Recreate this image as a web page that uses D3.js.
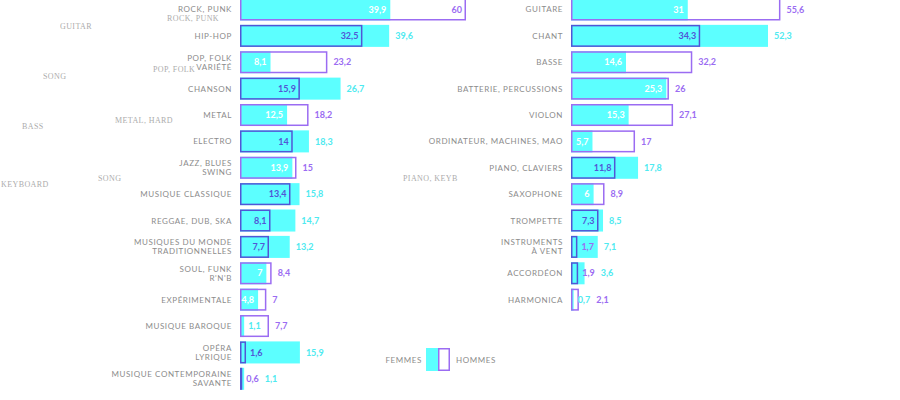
<!DOCTYPE html>
<html>
<head>
<meta charset="utf-8">
<script src="https://cdn.jsdelivr.net/npm/d3@7"></script>
<style>
  html, body { margin: 0; padding: 0; background: #fff; }
  svg { display: block; }
  .cat { font-family: Lato, "Open Sans", sans-serif; font-size: 8px; fill: #8c8c8c; letter-spacing: 0.6px; text-transform: uppercase; }
  .val { font-family: Lato, "Open Sans", sans-serif; font-size: 9px; font-weight: 700; }
  .ghost { font-family: "Liberation Serif", "DejaVu Serif", serif; font-size: 8px; fill: #666; opacity: 0.55; letter-spacing: 0.4px; }
</style>
</head>
<body>
<svg id="chart" width="900" height="400"></svg>
<script>
// ---------- DATA ----------
const leftCategories = [
  ["ROCK, PUNK"], ["HIP-HOP"], ["POP, FOLK", "VARIÉTÉ"], ["CHANSON"], ["METAL"],
  ["ELECTRO"], ["JAZZ, BLUES", "SWING"], ["MUSIQUE CLASSIQUE"], ["REGGAE, DUB, SKA"],
  ["MUSIQUES DU MONDE", "TRADITIONNELLES"], ["SOUL, FUNK", "R'N'B"], ["EXPÉRIMENTALE"],
  ["MUSIQUE BAROQUE"], ["OPÉRA", "LYRIQUE"], ["MUSIQUE CONTEMPORAINE", "SAVANTE"]
];
const leftCyan   = [39.9, 39.6, 8.1, 26.7, 12.5, 18.3, 13.9, 15.8, 14.7, 13.2, 7, 4.8, 1.1, 15.9, 1.1];
const leftPurple = [60, 32.5, 23.2, 15.9, 18.2, 14, 15, 13.4, 8.1, 7.7, 8.4, 7, 7.7, 1.6, 0.6];

const rightCategories = [
  ["GUITARE"], ["CHANT"], ["BASSE"], ["BATTERIE, PERCUSSIONS"], ["VIOLON"],
  ["ORDINATEUR, MACHINES, MAO"], ["PIANO, CLAVIERS"], ["SAXOPHONE"], ["TROMPETTE"],
  ["INSTRUMENTS", "À VENT"], ["ACCORDÉON"], ["HARMONICA"]
];
const rightCyan   = [31, 52.3, 14.6, 25.3, 15.3, 5.7, 17.8, 6, 8.5, 7.1, 3.6, 0.7];
const rightPurple = [55.6, 34.3, 32.2, 26, 27.1, 17, 11.8, 8.9, 7.3, 1.7, 1.9, 2.1];

const legendLabels = ["FEMMES", "HOMMES"];
const ghostTexts = ["ROCK, PUNK", "GUITAR", "POP, FOLK", "SONG", "METAL, HARD", "BASS", "SONG", "KEYBOARD", "PIANO, KEYB"];

// ---------- STYLE / LAYOUT ----------
const CYAN = "#5cffff";
const CYAN_TEXT = "#4eeaf0";
const PURPLE = "#9b6cf2";
const PURPLE_DARK = "#5156d6";
const step = 26.38;
const top0 = -3.7;
const barMax = 226; // px for 60
const svg = d3.select("#chart");

const x = d3.scaleLinear().domain([0, 60]).range([0, barMax]);
const fmt = v => String(v).replace(".", ",");

function panel(x0, cats, cyan, purple, limit) {
  const n = cats.length;
  const y = d3.scaleBand().domain(d3.range(n)).range([top0, top0 + n * step])
    .paddingInner(0.165).paddingOuter(0.0825);
  const g = svg.append("g").attr("transform", `translate(${x0},0)`);
  const rows = d3.range(n).map(i => ({ i, c: cyan[i], p: purple[i], cat: cats[i] }));

  // category labels
  const lab = g.selectAll("text.cat").data(rows).join("text").attr("class", "cat")
    .attr("text-anchor", "end").attr("x", -8)
    .attr("y", d => y(d.i) + y.bandwidth() / 2 - (d.cat.length - 1) * 4.5 + 3);
  lab.selectAll("tspan").data(d => d.cat).join("tspan")
    .attr("x", -8).attr("dy", (d, j) => j === 0 ? 0 : 9).text(d => d);

  // cyan bars
  g.selectAll("rect.cy").data(rows).join("rect").attr("class", "cy")
    .attr("x", 0).attr("y", d => y(d.i))
    .attr("width", d => x(d.c)).attr("height", y.bandwidth())
    .attr("fill", CYAN);

  // purple outline bars
  g.selectAll("rect.pu").data(rows).join("rect").attr("class", "pu")
    .attr("x", 0.75).attr("y", d => y(d.i) + 0.75)
    .attr("width", d => Math.max(0, x(d.p) - 1.5)).attr("height", y.bandwidth() - 1.5)
    .attr("fill", "none").attr("stroke-width", 1.5)
    .attr("stroke", d => d.p <= d.c ? PURPLE_DARK : PURPLE);

  // value labels
  rows.forEach(d => {
    const cy = y(d.i) + y.bandwidth() / 2 + 3.2;
    const smallIsCyan = d.c < d.p;
    const sv = smallIsCyan ? d.c : d.p;
    const lv = smallIsCyan ? d.p : d.c;
    const sw = x(sv);
    let smallEnd;
    if (sw > 14) {
      g.append("text").attr("class", "val").attr("text-anchor", "end")
        .attr("x", sw - 4).attr("y", cy)
        .attr("fill", smallIsCyan ? "#ffffff" : PURPLE_DARK).text(fmt(sv));
      smallEnd = sw;
    } else {
      const t = g.append("text").attr("class", "val").attr("text-anchor", "start")
        .attr("x", sw + 4).attr("y", cy)
        .attr("fill", smallIsCyan ? CYAN_TEXT : (x(lv) > sw + 22 ? PURPLE_DARK : PURPLE)).text(fmt(sv));
      smallEnd = sw + 4 + t.node().getComputedTextLength();
    }
    const lw = x(lv);
    const lcol = smallIsCyan ? PURPLE : CYAN_TEXT;
    if (lw + 30 > limit) {
      g.append("text").attr("class", "val").attr("text-anchor", "end")
        .attr("x", lw - 4).attr("y", cy).attr("fill", lcol).text(fmt(lv));
    } else {
      g.append("text").attr("class", "val").attr("text-anchor", "start")
        .attr("x", Math.max(lw, smallEnd) + 6).attr("y", cy).attr("fill", lcol).text(fmt(lv));
    }
  });
}

panel(240, leftCategories, leftCyan, leftPurple, 240);
panel(571, rightCategories, rightCyan, rightPurple, 330);

// legend
const lg = svg.append("g").attr("transform", "translate(426,348)");
lg.append("rect").attr("x", 0).attr("y", 0).attr("width", 12).attr("height", 23).attr("fill", CYAN);
lg.append("rect").attr("x", 12.75).attr("y", 0.75).attr("width", 10.5).attr("height", 21.5)
  .attr("fill", "none").attr("stroke", PURPLE).attr("stroke-width", 1.5);
lg.append("text").attr("class", "cat").attr("text-anchor", "end").attr("x", -4).attr("y", 14.5).text(legendLabels[0]);
lg.append("text").attr("class", "cat").attr("text-anchor", "start").attr("x", 30).attr("y", 14.5).text(legendLabels[1]);

// faint ghost annotations seen in the reference
const ghostPos = [[167, 21], [60, 29], [153, 72], [43, 79], [115, 123], [22, 129], [98, 181], [1, 187], [403, 181]];
svg.append("g").selectAll("text").data(ghostTexts).join("text").attr("class", "ghost")
  .attr("x", (d, i) => ghostPos[i][0]).attr("y", (d, i) => ghostPos[i][1]).text(d => d);
</script>
</body>
</html>
